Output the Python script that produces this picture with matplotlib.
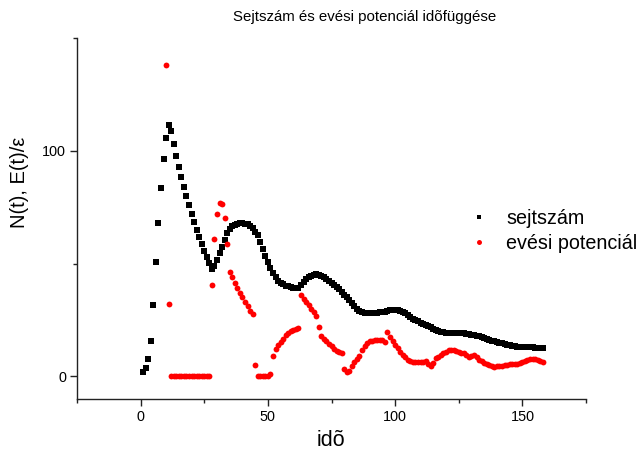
import numpy as np
import matplotlib.pyplot as plt
from matplotlib.ticker import MultipleLocator

plt.rcParams['font.family'] = ['Liberation Sans', 'DejaVu Sans']

# time steps
time = np.arange(1, 159)

# sejtszám (cell count), one value per time step, t = 1..158
sejtszam = [
    1.8, 3.7, 7.9, 15.9, 31.8, 50.6, 68.1, 83.5, 96.3, 105.6,
    111.3, 108.8, 103.0, 97.9, 93.0, 88.4, 84.0, 79.8, 75.8, 72.0,
    68.3, 64.8, 61.6, 58.6, 55.6, 52.8, 50.2, 47.8, 49.0, 51.5,
    54.5, 57.4, 60.4, 63.4, 65.3, 66.5, 67.2, 67.6, 67.8, 67.8,
    67.7, 67.4, 66.8, 65.6, 64.0, 62.6, 59.4, 56.3, 53.3, 50.6,
    48.1, 45.8, 44.0, 42.5, 41.5, 40.8, 40.2, 39.9, 39.6, 39.4,
    39.3, 39.3, 40.5, 42.0, 43.2, 44.0, 44.6, 45.0, 45.2, 45.0,
    44.6, 44.0, 43.3, 42.5, 41.6, 40.7, 39.8, 38.7, 37.5, 36.3,
    35.1, 33.8, 32.4, 31.1, 30.0, 29.2, 28.6, 28.3, 28.2, 28.2,
    28.2, 28.3, 28.3, 28.4, 28.5, 28.7, 29.0, 29.3, 29.5, 29.5,
    29.4, 29.1, 28.6, 27.9, 27.1, 26.3, 25.6, 25.0, 24.4, 23.8,
    23.3, 22.8, 22.3, 21.8, 21.2, 20.7, 20.2, 19.7, 19.5, 19.4,
    19.4, 19.4, 19.4, 19.4, 19.4, 19.3, 19.1, 18.9, 18.7, 18.5,
    18.3, 18.1, 17.9, 17.6, 17.2, 16.8, 16.3, 15.9, 15.5, 15.2,
    14.9, 14.6, 14.3, 14.0, 13.8, 13.6, 13.4, 13.2, 13.1, 13.0,
    13.0, 12.9, 12.9, 12.9, 12.8, 12.8, 12.8, 12.8,
]

# evési potenciál (eating potential), t = 10..158
eves_time = np.arange(10, 159)
eves = [
    138.0, 31.9, 0, 0, 0, 0, 0, 0, 0, 0,
    0, 0, 0, 0, 0, 0, 0, 0, 40.4, 61.1,
    71.8, 77.0, 76.4, 70.3, 58.5, 46.3, 43.9, 41.6, 39.4, 37.2,
    35.1, 33.0, 31.0, 29.1, 27.5, 5.2, 0, 0, 0, 0,
    0, 1.0, 9.2, 12.2, 13.8, 15.4, 16.8, 18.2, 19.3, 20.1,
    20.6, 21.1, 21.3, 35.9, 34.5, 33.0, 31.5, 30.0, 28.5, 27.0,
    21.8, 18.1, 16.8, 15.6, 14.4, 13.3, 12.3, 11.4, 10.8, 10.2,
    3.3, 1.8, 2.5, 4.8, 6.3, 7.8, 9.2, 11.5, 13.7, 14.8,
    15.5, 15.9, 16.1, 16.2, 16.2, 16.2, 15.1, 19.6, 17.4, 15.5,
    14.0, 12.5, 11.0, 9.5, 8.5, 7.5, 6.8, 6.4, 6.2, 6.2,
    6.2, 6.3, 6.8, 5.5, 4.8, 6.0, 8.0, 8.8, 9.5, 10.2,
    10.8, 11.5, 11.7, 11.5, 11.2, 10.9, 10.6, 10.2, 9.5, 8.8,
    9.2, 9.7, 8.5, 7.5, 6.7, 6.1, 5.5, 5.0, 4.6, 4.4,
    4.5, 4.7, 4.8, 4.9, 5.1, 5.3, 5.5, 5.6, 5.4, 6.0,
    6.6, 7.0, 7.3, 7.6, 7.7, 7.8, 7.5, 6.8, 6.2,
]

fig = plt.figure(figsize=(6.38, 4.57), dpi=100)
ax = fig.add_axes([77 / 638, 1 - 399 / 457, (586 - 77) / 638, (399 - 38) / 457])

ax.plot(time, sejtszam, 's', color='black', markersize=4.2, markeredgewidth=0,
        label='sejtszám')
ax.plot(eves_time, eves, 'o', color='red', markersize=4.2, markeredgewidth=0,
        label='evési potenciál')

ax.set_xlim(-25, 175)
ax.set_ylim(-10, 150)
ax.xaxis.set_major_locator(MultipleLocator(50))
ax.xaxis.set_minor_locator(MultipleLocator(25))
ax.yaxis.set_major_locator(MultipleLocator(100))
ax.yaxis.set_minor_locator(MultipleLocator(50))

for side in ['top', 'right']:
    ax.spines[side].set_visible(False)
for side in ['left', 'bottom']:
    ax.spines[side].set_linewidth(1.0)
    ax.spines[side].set_color('#222222')

ax.tick_params(which='major', direction='out', length=5, width=1,
               labelsize=10.4, pad=3, color='#222222')
ax.tick_params(which='minor', direction='out', length=3, width=1,
               color='#222222')

fig.text(365 / 638, 1 - 17 / 457, 'Sejtszám és evési potenciál idõfüggése',
         ha='center', va='center', fontsize=10.8)
fig.text(331 / 638, 1 - 440 / 457, 'idõ', ha='center', va='center', fontsize=15.5)
fig.text(20 / 638, 1 - 182 / 457, 'N(t), E(t)/ε', ha='center',
         va='center', rotation=90, fontsize=14.5)

ax.legend(loc='center left', bbox_to_anchor=(470 / 638, 1 - 231 / 457),
          bbox_transform=fig.transFigure, frameon=False, fontsize=14.2,
          handlelength=0.9, handletextpad=0.95, labelspacing=0.33,
          borderpad=0, borderaxespad=0, markerscale=0.85)

plt.savefig('out.png', dpi=100)
